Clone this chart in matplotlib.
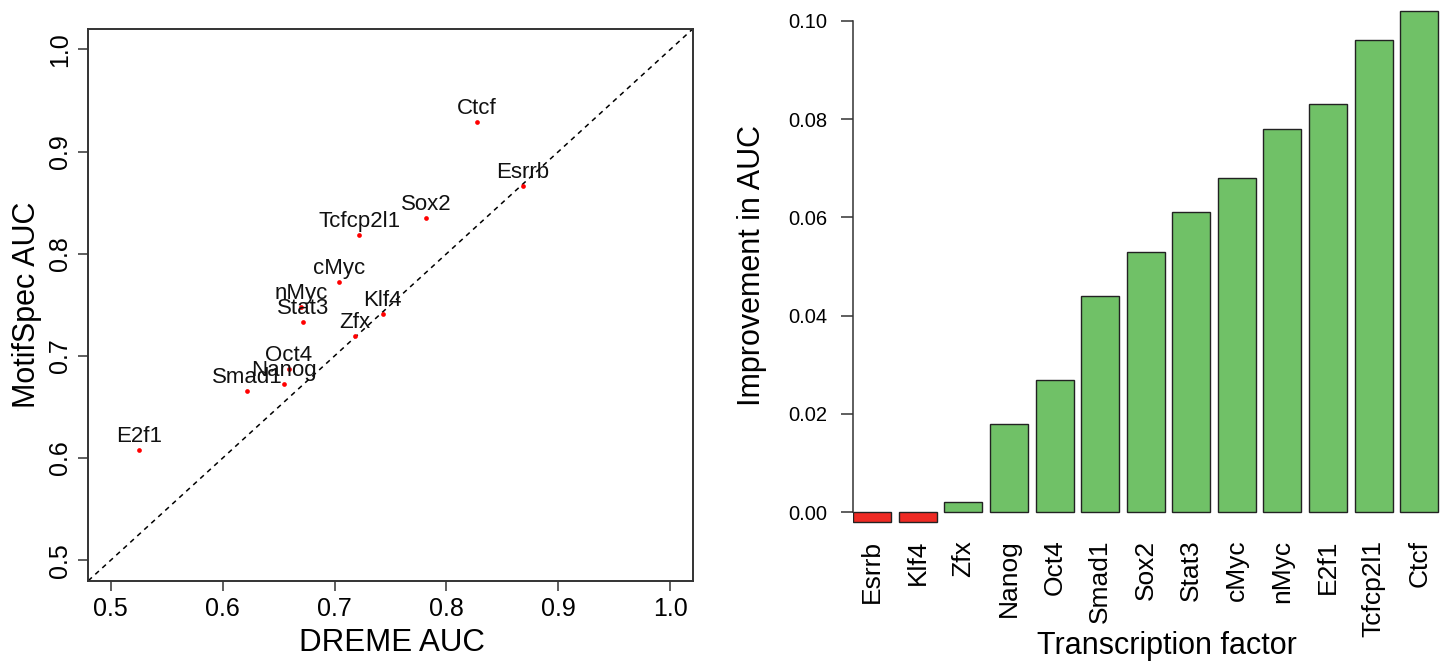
import numpy as np
import matplotlib
matplotlib.use('Agg')
import matplotlib.pyplot as plt

plt.rcParams['font.family'] = ['Liberation Sans', 'DejaVu Sans']

# scatter: DREME vs MotifSpec AUC
tf_names = ['Ctcf', 'Esrrb', 'Sox2', 'Tcfcp2l1', 'cMyc', 'nMyc', 'Stat3',
            'Klf4', 'Zfx', 'Oct4', 'Nanog', 'Smad1', 'E2f1']
dreme_auc = [0.827, 0.868, 0.782, 0.722, 0.704, 0.670, 0.672,
             0.743, 0.718, 0.659, 0.655, 0.622, 0.525]
motifspec_auc = [0.929, 0.866, 0.835, 0.818, 0.772, 0.748, 0.733,
                 0.741, 0.720, 0.687, 0.673, 0.666, 0.608]

# bars: improvement in AUC, sorted
bar_names = ['Esrrb', 'Klf4', 'Zfx', 'Nanog', 'Oct4', 'Smad1', 'Sox2',
             'Stat3', 'cMyc', 'nMyc', 'E2f1', 'Tcfcp2l1', 'Ctcf']
improvement = [-0.002, -0.002, 0.002, 0.018, 0.027, 0.044, 0.053,
               0.061, 0.068, 0.078, 0.083, 0.096, 0.102]
ticks_x = [0.5, 0.6, 0.7, 0.8, 0.9, 1.0]
ticks_bar = [0.00, 0.02, 0.04, 0.06, 0.08, 0.10]

W, H = 1445, 662
fig = plt.figure(figsize=(W / 100, H / 100), dpi=100)


def px_box(left, top, right, bottom):
    return [left / W, 1 - bottom / H, (right - left) / W, (bottom - top) / H]


# ---- left panel ----
ax = fig.add_axes(px_box(88.3, 29, 692.7, 580.7))
ax.plot([0.48, 1.02], [0.48, 1.02], ls=(0, (3.2, 3)), color='black', lw=1.1)
ax.plot(dreme_auc, motifspec_auc, 'o', color='#ff0000', ms=3.4, mec='none')
for name, x, y in zip(tf_names, dreme_auc, motifspec_auc):
    ax.annotate(name, (x, y), xytext=(0, 8), textcoords='offset pixels',
                ha='center', va='baseline', fontsize=16, color='#111111')
ax.set_xlim(0.48, 1.02)
ax.set_ylim(0.48, 1.02)
ax.set_xticks(ticks_x)
ax.set_xticklabels([f'{t:.1f}' for t in ticks_x])
ax.set_yticks(ticks_x)
ax.set_yticklabels([f'{t:.1f}' for t in ticks_x], rotation=90, va='center')
ax.tick_params(length=7, width=1.1, labelsize=18, pad=5, color='#333333')
for s in ax.spines.values():
    s.set_linewidth(1.4)
    s.set_color('#333333')
fig.text(392 / W, 1 - 643 / H, 'DREME AUC', ha='center', va='center', fontsize=22.5)
fig.text(27 / W, 1 - 305 / H, 'MotifSpec AUC', ha='center', va='center',
         rotation=90, fontsize=22)

# ---- right panel ----
bx = fig.add_axes(px_box(853.3, 5, 1445, 530))
pos = 0.7 + 1.2 * np.arange(len(bar_names))
colors = ['#ee2a24' if v < 0 else '#70c167' for v in improvement]
bx.bar(pos, improvement, width=1.0, color=colors, edgecolor='#222222', lw=1.0)
bx.set_xlim(0.2, 15.78)
bx.set_ylim(-0.0036, 0.10319)
for side in ['top', 'right', 'bottom']:
    bx.spines[side].set_visible(False)
bx.spines['left'].set_bounds(0.0, 0.10)
bx.spines['left'].set_linewidth(1.1)
bx.spines['left'].set_color('#333333')
bx.set_yticks(ticks_bar)
bx.set_yticklabels([f'{t:.2f}' for t in ticks_bar])
bx.tick_params(axis='y', length=8.5, width=1.1, labelsize=14.5, pad=10, color='#333333')
bx.set_xticks(pos)
bx.set_xticklabels(bar_names, rotation=90, va='top')
bx.tick_params(axis='x', length=0, labelsize=19, pad=7)
fig.text(1167 / W, 1 - 646 / H, 'Transcription factor', ha='center', va='center', fontsize=22)
fig.text(752 / W, 1 - 266 / H, 'Improvement in AUC', ha='center', va='center',
         rotation=90, fontsize=22)

fig.savefig('out.png', dpi=100)
